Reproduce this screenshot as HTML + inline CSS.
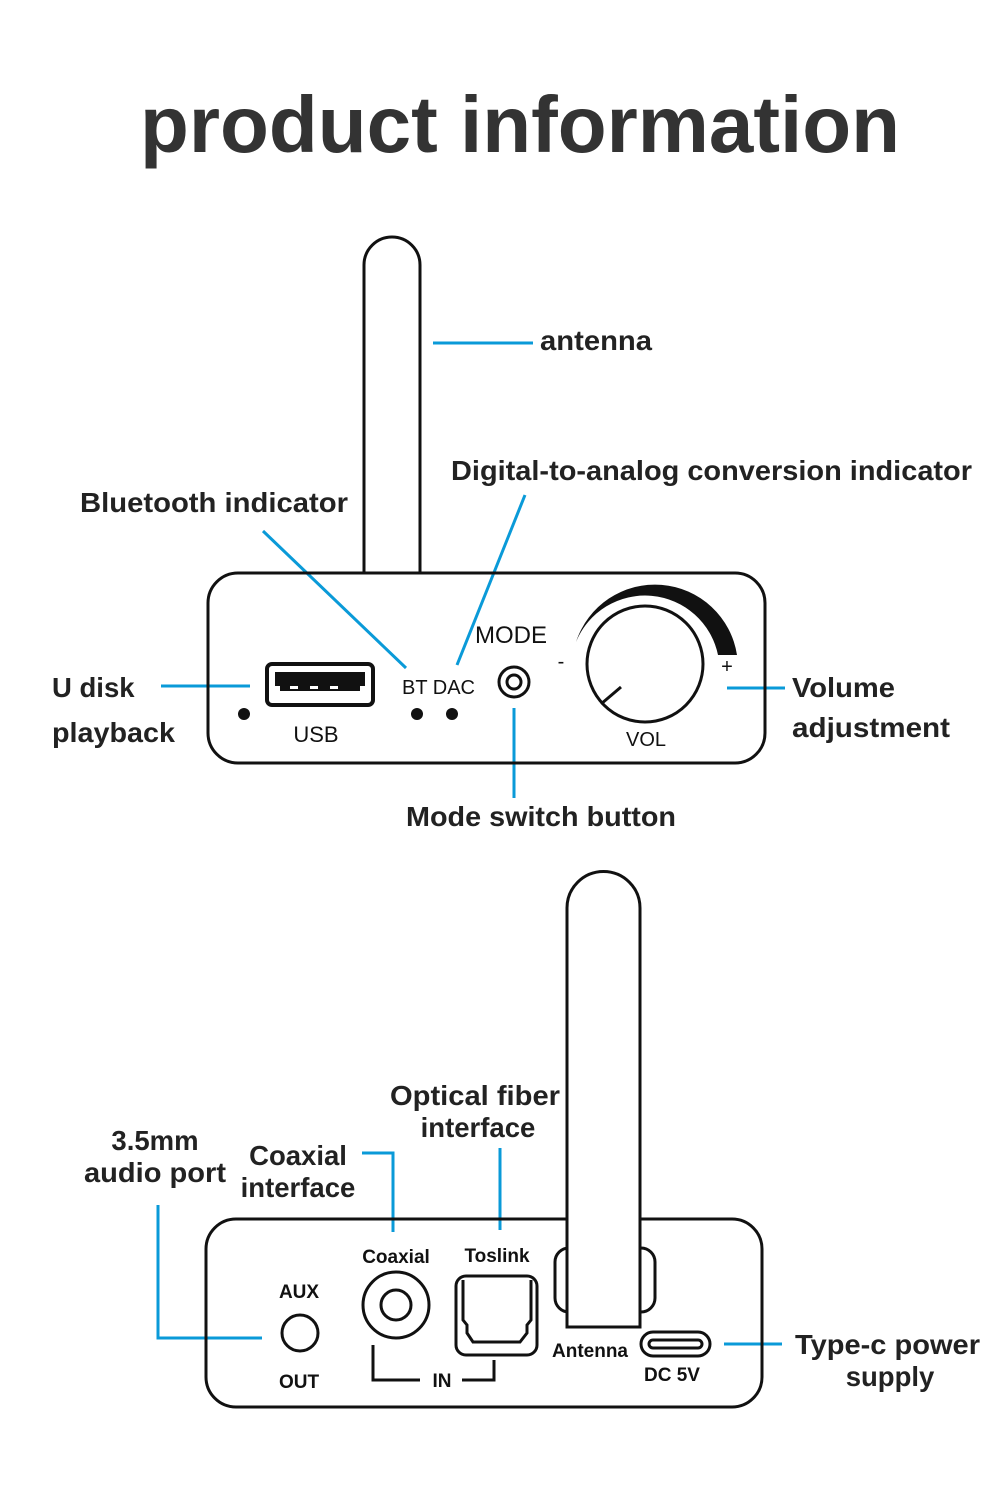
<!DOCTYPE html>
<html><head><meta charset="utf-8"><style>
html,body{margin:0;padding:0;background:#fff;}
svg{display:block;}
text{font-family:"Liberation Sans",sans-serif;}
.l{font-weight:bold;font-size:27.5px;fill:#222;}
.s{font-size:22px;fill:#111;}
.b{font-weight:bold;font-size:19px;fill:#111;}
</style></head><body>
<svg width="1000" height="1488" viewBox="0 0 1000 1488" xmlns="http://www.w3.org/2000/svg">
<text x="520" y="152" text-anchor="middle" font-size="80" font-weight="bold" fill="#333" textLength="760" lengthAdjust="spacingAndGlyphs">product information</text>

<g fill="none" stroke="#0a9ad8" stroke-width="3">
<line x1="433" y1="343" x2="533" y2="343"/>
<line x1="263" y1="531" x2="406" y2="668"/>
<line x1="525" y1="495" x2="457" y2="665"/>
<line x1="161" y1="686" x2="250" y2="686"/>
<line x1="514" y1="708" x2="514" y2="798"/>
<line x1="727" y1="688" x2="785" y2="688"/>
<polyline points="158,1205 158,1338 262,1338"/>
<polyline points="362,1153 393,1153 393,1232"/>
<line x1="500" y1="1148" x2="500" y2="1230"/>
<line x1="724" y1="1344" x2="782" y2="1344"/>
</g>

<!-- front -->
<path d="M364,573 L364,265 A28,28 0 0 1 420,265 L420,573" fill="#fff" stroke="#111" stroke-width="3"/>
<rect x="208" y="573" width="557" height="190" rx="30" fill="none" stroke="#111" stroke-width="3"/>
<rect x="267" y="664" width="106" height="41" rx="5" fill="none" stroke="#111" stroke-width="4"/>
<rect x="275" y="672" width="90" height="14" fill="#111"/>
<rect x="280" y="686" width="80" height="5" fill="#111"/>
<rect x="290" y="686" width="8" height="3" fill="#fff"/><rect x="310" y="686" width="8" height="3" fill="#fff"/><rect x="330" y="686" width="8" height="3" fill="#fff"/>
<circle cx="244" cy="714" r="6" fill="#111"/>
<circle cx="417" cy="714" r="6" fill="#111"/>
<circle cx="452" cy="714" r="6" fill="#111"/>
<text x="316" y="742" class="s" text-anchor="middle">USB</text>
<text x="402" y="694" font-size="20" fill="#111">BT DAC</text>
<text x="475" y="643" font-size="24" fill="#111">MODE</text>
<circle cx="514" cy="682" r="15" fill="none" stroke="#111" stroke-width="3"/>
<circle cx="514" cy="682" r="7" fill="none" stroke="#111" stroke-width="3"/>
<path d="M576,642 A83,83 0 0 1 737,655 L718,655 A74.5,74.5 0 0 0 576,642 Z" fill="#111"/>
<circle cx="645" cy="664" r="58" fill="none" stroke="#111" stroke-width="3"/>
<line x1="621" y1="687" x2="601" y2="704" stroke="#111" stroke-width="3"/>
<text x="561" y="668" font-size="20" fill="#111" text-anchor="middle">-</text>
<text x="727" y="673" font-size="20" fill="#111" text-anchor="middle">+</text>
<text x="646" y="746" font-size="20" fill="#111" text-anchor="middle">VOL</text>

<text x="540" y="350" class="l" textLength="112" lengthAdjust="spacingAndGlyphs">antenna</text>
<text x="451" y="480" class="l" textLength="521" lengthAdjust="spacingAndGlyphs">Digital-to-analog conversion indicator</text>
<text x="80" y="512" class="l" textLength="268" lengthAdjust="spacingAndGlyphs">Bluetooth indicator</text>
<text x="52" y="697" class="l">U disk</text>
<text x="52" y="742" class="l" textLength="123" lengthAdjust="spacingAndGlyphs">playback</text>
<text x="541" y="826" class="l" text-anchor="middle" textLength="270" lengthAdjust="spacingAndGlyphs">Mode switch button</text>
<text x="792" y="697" class="l" textLength="103" lengthAdjust="spacingAndGlyphs">Volume</text>
<text x="792" y="737" class="l" textLength="158" lengthAdjust="spacingAndGlyphs">adjustment</text>

<!-- back -->
<rect x="206" y="1219" width="556" height="188" rx="30" fill="none" stroke="#111" stroke-width="3"/>
<rect x="555" y="1248" width="100" height="64" rx="14" fill="none" stroke="#111" stroke-width="3"/>
<path d="M567,1327 L567,908 A36,36 0 0 1 640,908 L640,1327 Z" fill="#fff" stroke="#111" stroke-width="3"/>
<text x="299" y="1298" class="b" text-anchor="middle">AUX</text>
<circle cx="300" cy="1333" r="18" fill="none" stroke="#111" stroke-width="3"/>
<text x="299" y="1388" class="b" text-anchor="middle">OUT</text>
<text x="396" y="1263" class="b" text-anchor="middle">Coaxial</text>
<circle cx="396" cy="1305" r="33" fill="none" stroke="#111" stroke-width="3"/>
<circle cx="396" cy="1305" r="15" fill="none" stroke="#111" stroke-width="3"/>
<text x="497" y="1262" class="b" text-anchor="middle">Toslink</text>
<rect x="456" y="1276" width="81" height="79" rx="10" fill="none" stroke="#111" stroke-width="3"/>
<path d="M463,1280 L463,1320 L467,1325 L467,1333 L473,1342 L520,1342 L527,1333 L527,1325 L531,1320 L531,1280" fill="none" stroke="#111" stroke-width="3"/>
<polyline points="373,1345 373,1380 420,1380" fill="none" stroke="#111" stroke-width="3"/>
<polyline points="462,1380 494,1380 494,1360" fill="none" stroke="#111" stroke-width="3"/>
<text x="442" y="1387" class="b" text-anchor="middle">IN</text>
<text x="590" y="1357" class="b" text-anchor="middle">Antenna</text>
<rect x="641" y="1332" width="69" height="24" rx="12" fill="none" stroke="#111" stroke-width="3"/>
<rect x="649" y="1340" width="53" height="8" rx="4" fill="none" stroke="#111" stroke-width="3"/>
<text x="672" y="1381" class="b" text-anchor="middle">DC 5V</text>

<text x="155" y="1150" class="l" text-anchor="middle">3.5mm</text>
<text x="155" y="1182" class="l" text-anchor="middle" textLength="142" lengthAdjust="spacingAndGlyphs">audio port</text>
<text x="298" y="1165" class="l" text-anchor="middle">Coaxial</text>
<text x="298" y="1197" class="l" text-anchor="middle">interface</text>
<text x="475" y="1105" class="l" text-anchor="middle" textLength="170" lengthAdjust="spacingAndGlyphs">Optical fiber</text>
<text x="478" y="1137" class="l" text-anchor="middle">interface</text>
<text x="795" y="1354" class="l" textLength="185" lengthAdjust="spacingAndGlyphs">Type-c power</text>
<text x="890" y="1386" class="l" text-anchor="middle">supply</text>
</svg>
</body></html>
